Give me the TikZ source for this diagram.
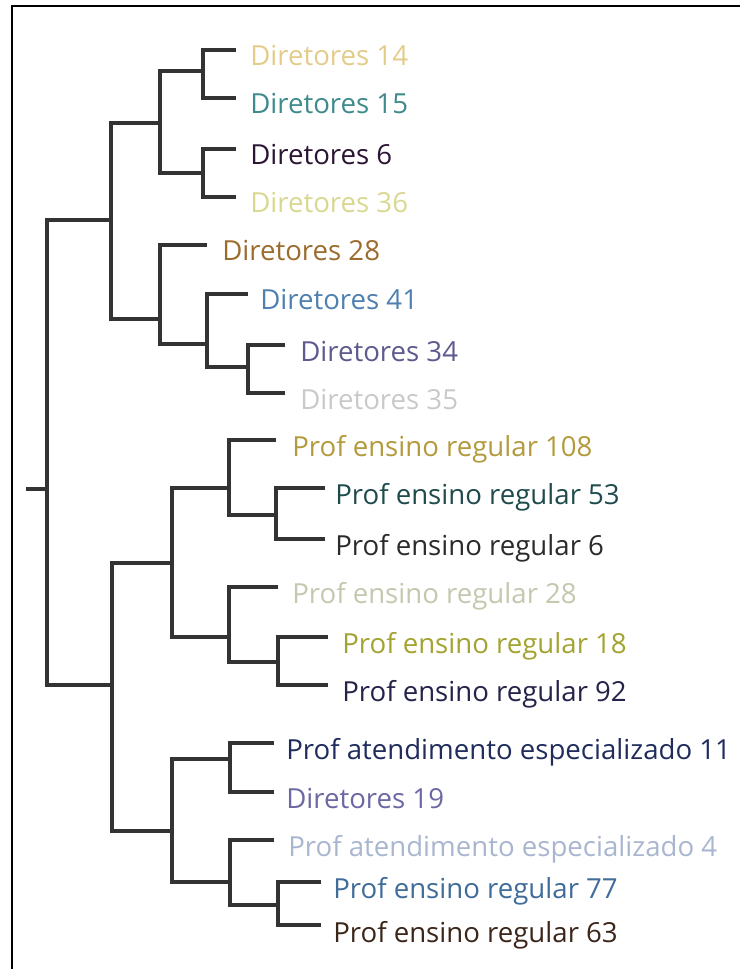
\documentclass[tikz,border=0pt]{standalone}
\usepackage{fontspec}
\setmainfont{Open Sans}
\definecolor{c1}{HTML}{E3CC8A}
\definecolor{c2}{HTML}{3F8A8C}
\definecolor{c3}{HTML}{2B1533}
\definecolor{c4}{HTML}{D8D890}
\definecolor{c5}{HTML}{9C6B2E}
\definecolor{c6}{HTML}{4E80B0}
\definecolor{c7}{HTML}{5E5A8E}
\definecolor{c8}{HTML}{C9C9C9}
\definecolor{c9}{HTML}{B39A3C}
\definecolor{c10}{HTML}{1F4B4D}
\definecolor{c11}{HTML}{2B2B2B}
\definecolor{c12}{HTML}{C3C8AE}
\definecolor{c13}{HTML}{A3A332}
\definecolor{c14}{HTML}{24234A}
\definecolor{c15}{HTML}{1F2C5C}
\definecolor{c16}{HTML}{6B68A3}
\definecolor{c17}{HTML}{A9B6CF}
\definecolor{c18}{HTML}{3F6C98}
\definecolor{c19}{HTML}{3B2619}
\begin{document}
\begin{tikzpicture}[x=0.75pt,y=-0.75pt,
  br/.style={draw=black!80, line width=2.4pt},
  lf/.style={anchor=base west, inner sep=0pt, font=\fontsize{20.7}{24}\selectfont}]
\useasboundingbox (0,0) rectangle (740,969);
\draw[line width=1.6pt] (12,969) -- (12,6) -- (740,6);
% internal nodes
\coordinate (R) at (47,489);
\coordinate (r0) at (26,489);
\coordinate (A) at (111,220);
\coordinate (A1) at (160,123);
\coordinate (A11) at (203,71);
\coordinate (A12) at (203,173);
\coordinate (A2) at (160,319);
\coordinate (A21) at (207,344);
\coordinate (A211) at (248,367);
\coordinate (B) at (112,685);
\coordinate (B1) at (172,563);
\coordinate (B11) at (229,488);
\coordinate (B111) at (276,515);
\coordinate (B12) at (229,637);
\coordinate (B121) at (278,662);
\coordinate (B2) at (172,831);
\coordinate (B21) at (230,759);
\coordinate (B22) at (230,882);
\coordinate (B221) at (278,905);
% leaf tips
\coordinate (t1) at (236,50);
\coordinate (t2) at (236,98);
\coordinate (t3) at (236,149);
\coordinate (t4) at (236,197);
\coordinate (t5) at (207,245);
\coordinate (t6) at (248,294);
\coordinate (t7) at (285,345);
\coordinate (t8) at (285,393);
\coordinate (t9) at (276,440);
\coordinate (t10) at (325,488);
\coordinate (t11) at (325,539);
\coordinate (t12) at (278,587);
\coordinate (t13) at (328,637);
\coordinate (t14) at (328,685);
\coordinate (t15) at (274,743);
\coordinate (t16) at (274,792);
\coordinate (t17) at (274,840);
\coordinate (t18) at (321,882);
\coordinate (t19) at (321,925);
% labels
\node[lf, text=c1] (l1) at (250,66) {Diretores 14};
\node[lf, text=c2] (l2) at (250,114) {Diretores 15};
\node[lf, text=c3] (l3) at (250,165) {Diretores 6};
\node[lf, text=c4] (l4) at (250,213) {Diretores 36};
\node[lf, text=c5] (l5) at (222,261) {Diretores 28};
\node[lf, text=c6] (l6) at (260,310) {Diretores 41};
\node[lf, text=c7] (l7) at (300,361) {Diretores 34};
\node[lf, text=c8] (l8) at (300,409) {Diretores 35};
\node[lf, text=c9] (l9) at (292,456) {Prof ensino regular 108};
\node[lf, text=c10] (l10) at (335,504) {Prof ensino regular 53};
\node[lf, text=c11] (l11) at (335,555) {Prof ensino regular 6};
\node[lf, text=c12] (l12) at (292,603) {Prof ensino regular 28};
\node[lf, text=c13] (l13) at (342,653) {Prof ensino regular 18};
\node[lf, text=c14] (l14) at (342,701) {Prof ensino regular 92};
\node[lf, text=c15] (l15) at (286,759) {Prof atendimento especializado 11};
\node[lf, text=c16] (l16) at (286,808) {Diretores 19};
\node[lf, text=c17] (l17) at (288,856) {Prof atendimento especializado 4};
\node[lf, text=c18] (l18) at (333,898) {Prof ensino regular 77};
\node[lf, text=c19] (l19) at (333,942) {Prof ensino regular 63};
% branches
\draw[br] (r0) -- (R);
\draw[br] (A) -| (R);
\draw[br] (B) -| (R);
\draw[br] (A1) -| (A);
\draw[br] (A2) -| (A);
\draw[br] (A11) -| (A1);
\draw[br] (A12) -| (A1);
\draw[br] (t1) -| (A11);
\draw[br] (t2) -| (A11);
\draw[br] (t3) -| (A12);
\draw[br] (t4) -| (A12);
\draw[br] (t5) -| (A2);
\draw[br] (A21) -| (A2);
\draw[br] (t6) -| (A21);
\draw[br] (A211) -| (A21);
\draw[br] (t7) -| (A211);
\draw[br] (t8) -| (A211);
\draw[br] (B1) -| (B);
\draw[br] (B2) -| (B);
\draw[br] (B11) -| (B1);
\draw[br] (B12) -| (B1);
\draw[br] (t9) -| (B11);
\draw[br] (B111) -| (B11);
\draw[br] (t10) -| (B111);
\draw[br] (t11) -| (B111);
\draw[br] (t12) -| (B12);
\draw[br] (B121) -| (B12);
\draw[br] (t13) -| (B121);
\draw[br] (t14) -| (B121);
\draw[br] (B21) -| (B2);
\draw[br] (B22) -| (B2);
\draw[br] (t15) -| (B21);
\draw[br] (t16) -| (B21);
\draw[br] (t17) -| (B22);
\draw[br] (B221) -| (B22);
\draw[br] (t18) -| (B221);
\draw[br] (t19) -| (B221);
\end{tikzpicture}
\end{document}
